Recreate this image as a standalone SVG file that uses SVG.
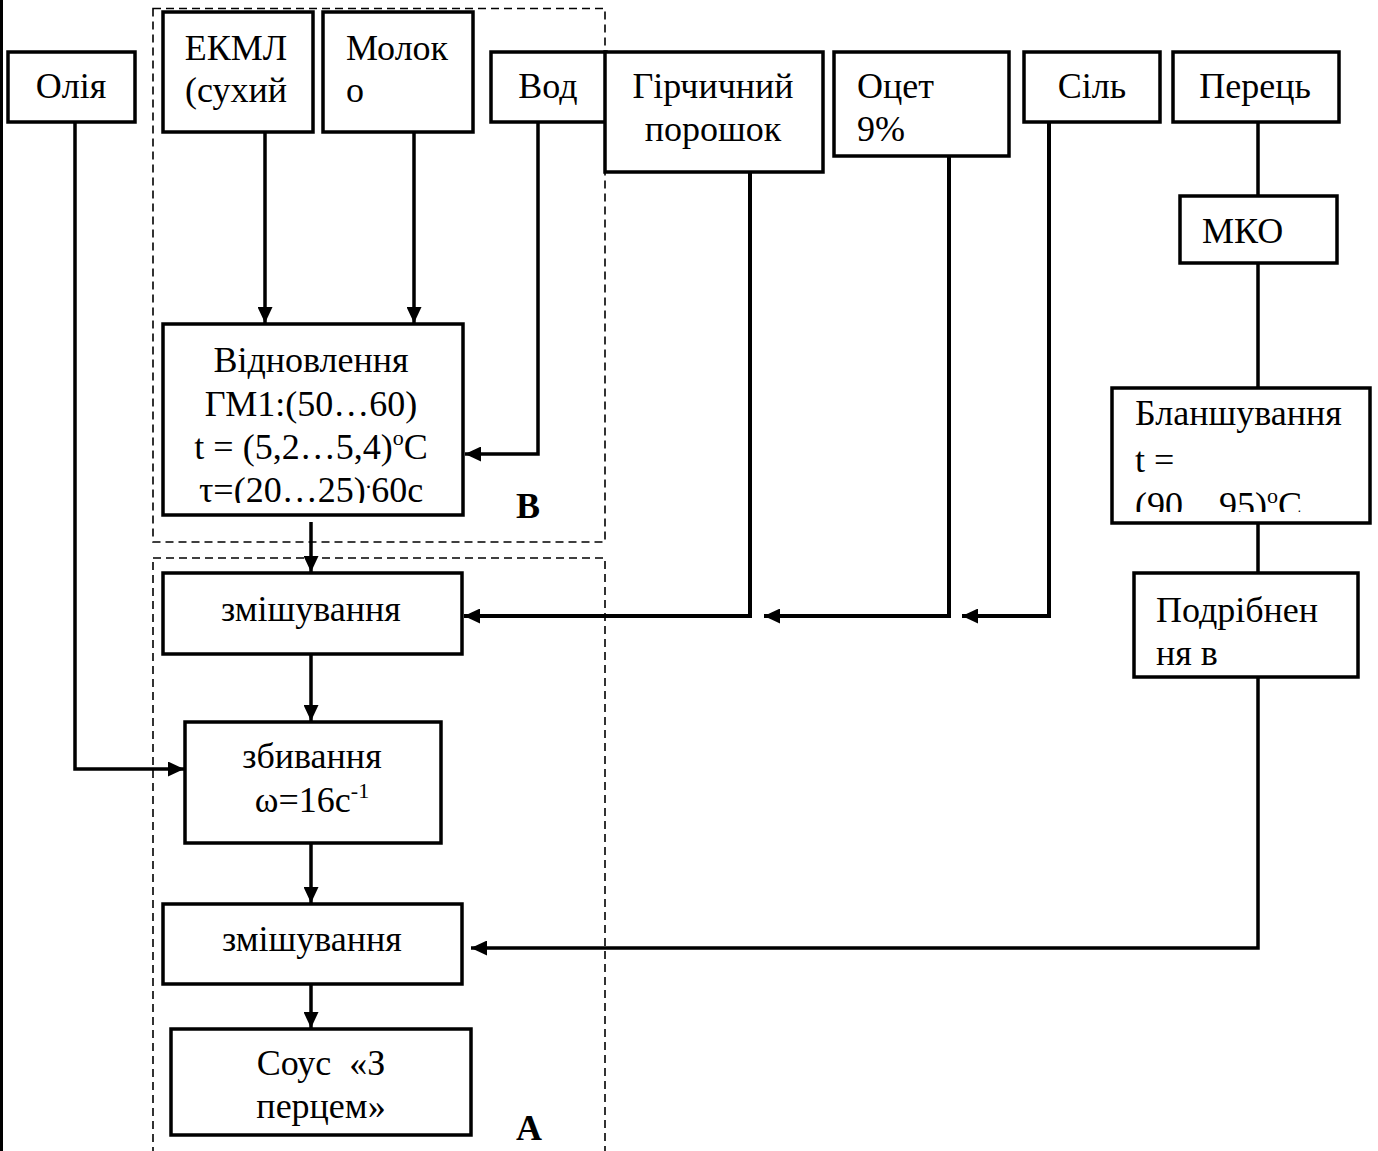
<svg xmlns="http://www.w3.org/2000/svg" width="1378" height="1151" viewBox="0 0 1378 1151">
<style>
.box{fill:#fff;stroke:#000;stroke-width:3.5}
.dash{fill:none;stroke:#000;stroke-width:1.6;stroke-dasharray:8 5}
.c{fill:none;stroke:#000;stroke-width:3.5}
.h{fill:none;stroke:#000;stroke-width:4}
text{font-family:"Liberation Serif","Times New Roman",serif;font-size:36px;fill:#000}
.m{text-anchor:middle}
.b{font-weight:bold}
</style>
<defs>
<marker id="ah" markerUnits="userSpaceOnUse" markerWidth="17" markerHeight="15" refX="16" refY="7.5" orient="auto">
<path d="M0,0 L16,7.5 L0,15 z" fill="#000"/>
</marker>
<clipPath id="clipV"><rect x="160" y="320" width="310" height="183"/></clipPath>
<clipPath id="clipB"><rect x="1110" y="385" width="262" height="127"/></clipPath>
</defs>
<rect width="1378" height="1151" fill="#fff"/>
<line x1="1.5" y1="0" x2="1.5" y2="1151" stroke="#000" stroke-width="3"/>
<g id="groupB"><rect class="dash" x="153" y="8.5" width="452" height="533.5"/><text class="b" x="516" y="518">В</text></g>
<g id="groupA"><rect class="dash" x="153" y="558" width="452" height="620"/><text class="b" x="516" y="1140">А</text></g>
<g id="connectors">
<path class="c" d="M75,123 V769 H184" marker-end="url(#ah)"/>
<path class="c" d="M265,132 V323" marker-end="url(#ah)"/>
<path class="c" d="M414,132 V323" marker-end="url(#ah)"/>
<path class="c" d="M538,123 V454 H465" marker-end="url(#ah)"/>
<path class="c" d="M311,522 V572" marker-end="url(#ah)"/>
<path class="h" d="M750,173 V616 H464" marker-end="url(#ah)"/>
<path class="h" d="M949,157 V616 H764" marker-end="url(#ah)"/>
<path class="h" d="M1049,123 V616 H962" marker-end="url(#ah)"/>
<path class="c" d="M311,654 V721" marker-end="url(#ah)"/>
<path class="c" d="M311,843 V903" marker-end="url(#ah)"/>
<path class="c" d="M311,984 V1028" marker-end="url(#ah)"/>
<path class="c" d="M1258,123 V195 M1258,263 V388 M1258,523 V573"/>
<path class="c" d="M1258,677 V948 H471" marker-end="url(#ah)"/>
</g>
<g id="olia"><rect class="box" x="8" y="52" width="127" height="70"/><text class="m" x="71" y="98">Олія</text></g>
<g id="ekml"><rect class="box" x="163" y="12" width="150" height="120"/><text class="m" x="236" y="60">ЕКМЛ</text><text class="m" x="236" y="102">(сухий</text></g>
<g id="moloko"><rect class="box" x="323" y="12" width="150" height="120"/><text x="346" y="60">Молок</text><text x="346" y="102">о</text></g>
<g id="voda"><rect class="box" x="491" y="52" width="115" height="70"/><text class="m" x="548" y="98">Вод</text></g>
<g id="girchychnyi"><rect class="box" x="605" y="52" width="218" height="120"/><text class="m" x="713" y="98">Гірчичний</text><text class="m" x="713" y="141">порошок</text></g>
<g id="otset"><rect class="box" x="834" y="52" width="175" height="104"/><text x="857" y="98">Оцет</text><text x="857" y="141">9%</text></g>
<g id="sil"><rect class="box" x="1024" y="52" width="136" height="70"/><text class="m" x="1092" y="98">Сіль</text></g>
<g id="perets"><rect class="box" x="1173" y="52" width="166" height="70"/><text class="m" x="1255" y="98">Перець</text></g>
<g id="mko"><rect class="box" x="1180" y="196" width="157" height="67"/><text x="1202" y="243">МКО</text></g>
<g id="vidnovlennia"><rect class="box" x="163" y="324" width="300" height="191"/>
<g clip-path="url(#clipV)">
<text class="m" x="311" y="372">Відновлення</text>
<text class="m" x="311" y="416">ГМ1:(50…60)</text>
<text class="m" x="311" y="459">t = (5,2…5,4)<tspan font-size="22" dy="-14">o</tspan><tspan dy="14">C</tspan></text>
<text class="m" x="311" y="502">τ=(20…25)<tspan font-size="22" dy="-14">.</tspan><tspan dy="14">60с</tspan></text>
</g></g>
<g id="blanshuvannia"><rect class="box" x="1112" y="388" width="258" height="135"/>
<g clip-path="url(#clipB)">
<text x="1135" y="425">Бланшування</text>
<text x="1135" y="472">t =</text>
<text x="1135" y="517">(90…95)<tspan font-size="22" dy="-14">o</tspan><tspan dy="14">C</tspan></text>
</g></g>
<g id="podribnennia"><rect class="box" x="1134" y="573" width="224" height="104"/><text x="1156" y="622">Подрібнен</text><text x="1156" y="665">ня в</text></g>
<g id="zmishuvannia1"><rect class="box" x="163" y="573" width="299" height="81"/><text class="m" x="311" y="621">змішування</text></g>
<g id="zbyvannia"><rect class="box" x="185" y="722" width="256" height="121"/><text class="m" x="312" y="768">збивання</text><text class="m" x="312" y="812">ω=16с<tspan font-size="22" dy="-14">-1</tspan></text></g>
<g id="zmishuvannia2"><rect class="box" x="163" y="904" width="299" height="80"/><text class="m" x="312" y="951">змішування</text></g>
<g id="sous"><rect class="box" x="171" y="1029" width="300" height="106"/><text class="m" x="321" y="1075">Соус&#160; «З</text><text class="m" x="321" y="1118">перцем»</text></g>
</svg>
